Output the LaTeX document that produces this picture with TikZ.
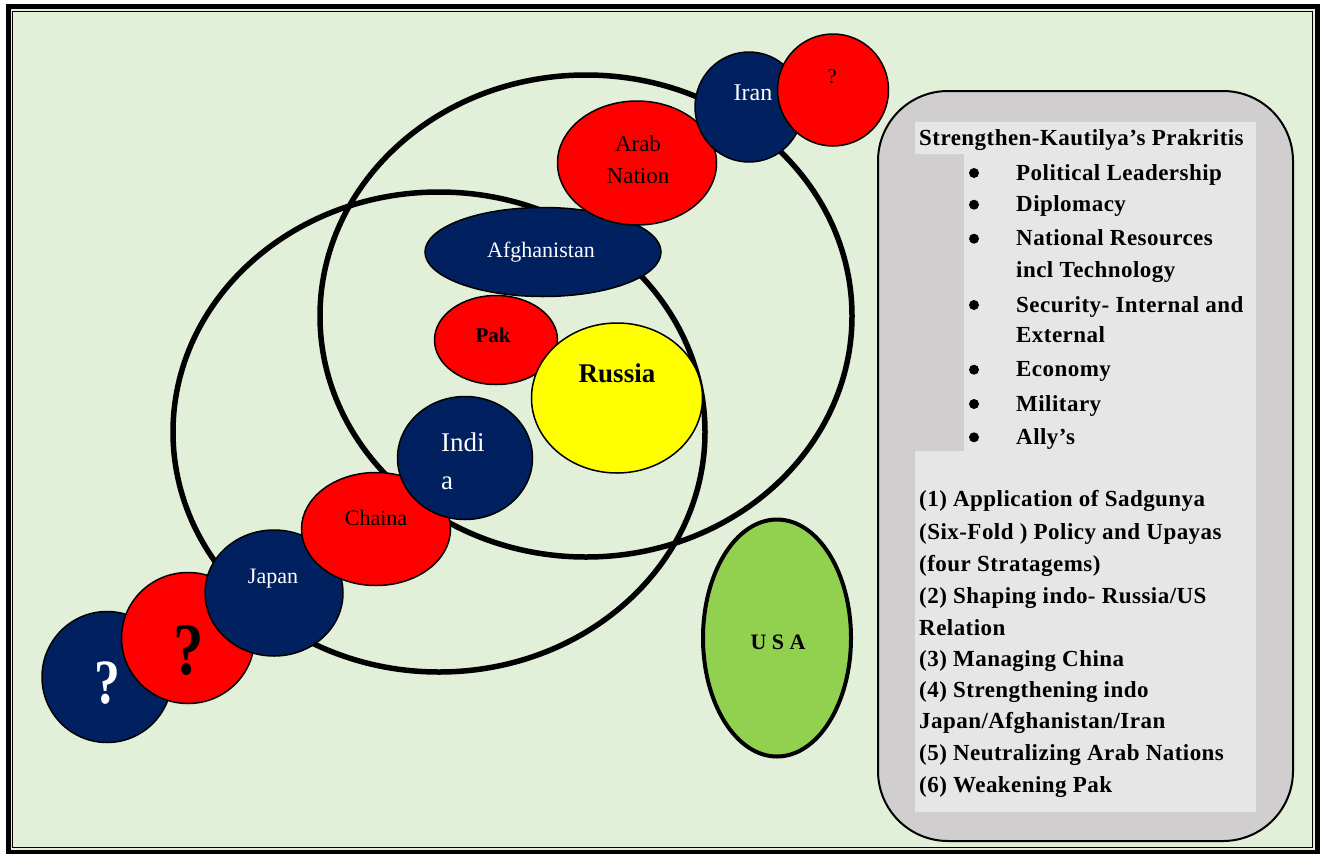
\documentclass[tikz,border=0pt]{standalone}
\usepackage{fontspec}
\setmainfont{Liberation Serif}
\newfontfamily\panelfont[LetterSpace=2]{Liberation Serif}
\usetikzlibrary{shapes.geometric}

\definecolor{bgGreen}{HTML}{E2EFD9}
\definecolor{navy}{HTML}{002060}
\definecolor{usaGreen}{HTML}{92D050}
\definecolor{russiaYellow}{HTML}{FFFF00}
\definecolor{panelGray}{HTML}{D0CECE}
\definecolor{panelLight}{HTML}{E7E6E6}

\newcommand\pxsize[1]{\fontsize{#1}{#1}\selectfont}

\tikzset{
  sz/.style 2 args={minimum width=#1pt, minimum height=#2pt},
  orbit/.style={draw, line width=5.5pt, ellipse, inner sep=0pt},
  country/.style={draw, line width=1.5pt, ellipse, inner sep=0pt},
  navyland/.style={country, fill=navy},
  redland/.style={country, fill=red},
  lbl/.style={anchor=base, inner sep=0pt},
  ptext/.style={anchor=base west, inner sep=0pt, font=\panelfont\bfseries\pxsize{23}},
  pdot/.style={circle, fill=black, inner sep=0pt, minimum size=10pt},
}

\begin{document}
\begin{tikzpicture}[x=1pt, y=-1pt]
\useasboundingbox (0,0) rectangle (1328,854);

% page frame
\fill[white] (0,0) rectangle (1328,854);
\fill[bgGreen] (8.5,6.5) rectangle (1317.5,852);
\draw[line width=5pt] (8.5,6.5) rectangle (1317.5,852);
\draw[line width=1.2pt] (12.5,11.5) rectangle (1312.5,847.5);

% the two spheres of influence
\node[orbit, sz={532}{480}] (sphereA) at (439,432) {};
\node[orbit, sz={532}{482}] (sphereB) at (586,316) {};

% USA
\node[draw, line width=4pt, ellipse, inner sep=0pt, fill=usaGreen, sz={148}{237}] (usa) at (777,638) {};

% Pak and Russia
\node[redland, sz={123}{89}] (pak) at (496,340) {};
\node[country, fill=russiaYellow, sz={171}{150}] (russia) at (617,398) {};

% north-west chain
\node[navyland, sz={236}{89}] (afghan) at (543,252) {};
\node[redland, sz={159}{124}] (arab) at (637,163) {};
\node[navyland, sz={108}{110}] (iran) at (749,107) {};
\node[redland, sz={111}{112}] (qtop) at (833,90) {};

% south-east chain
\node[navyland, sz={130}{131}] (qnavy) at (107,677) {};
\node[redland, sz={133}{131}] (qred) at (188,638) {};
\node[navyland, sz={138}{126}] (japan) at (274,593) {};
\node[redland, sz={149}{113}] (china) at (376,529) {};
\node[navyland, sz={135}{123}] (india) at (465,458) {};

% labels
\node[lbl, text=white, font=\pxsize{24}] (tIran) at (753,100.7) {Iran};
\node[lbl, font=\pxsize{21}] (tQtop) at (832,83) {?};
\node[lbl, font=\pxsize{23}] (tArab) at (638,151.7) {Arab};
\node[lbl, font=\pxsize{23}] (tNation) at (638,183) {Nation};
\node[lbl, text=white, font=\pxsize{22}] (tAfghan) at (541,257.7) {Afghanistan};
\node[lbl, font=\bfseries\pxsize{21}] (tPak) at (493,342) {Pak};
\node[lbl, font=\bfseries\pxsize{27}] (tRussia) at (617,382) {Russia};
\node[anchor=base west, inner sep=0pt, text=white, font=\pxsize{27}] (tIndi) at (441,451) {Indi};
\node[anchor=base west, inner sep=0pt, text=white, font=\pxsize{27}] (tIndiA) at (441,489) {a};
\node[lbl, font=\pxsize{22}] (tChina) at (376,525) {Chaina};
\node[lbl, text=white, font=\pxsize{22}] (tJapan) at (273,583) {Japan};
\node[lbl, font=\bfseries\pxsize{74}, xscale=0.82] (tQred) at (189,674) {?};
\node[lbl, text=white, font=\bfseries\pxsize{63}, xscale=0.82] (tQnavy) at (107,703) {?};
\node[lbl, font=\bfseries\pxsize{22}] (tUsa) at (778,649) {U S A};

% strategy panel
\node[draw, line width=2pt, fill=panelGray, rounded corners=70pt, inner sep=0pt,
      minimum width=415pt, minimum height=750pt] (panel) at (1085.5,466) {};
\fill[panelLight] (915,122) -- (1256,122) -- (1256,812) -- (915,812) -- (915,451)
  -- (964,451) -- (964,154) -- (915,154) -- cycle;

\node[ptext] (title) at (919,145.7) {Strengthen-Kautilya’s Prakritis};

\node[pdot] (b1) at (974,173) {};
\node[ptext] (p1) at (1016,180) {Political Leadership};
\node[pdot] (b2) at (974,204.7) {};
\node[ptext] (p2) at (1016,211.7) {Diplomacy};
\node[pdot] (b3) at (974,238.7) {};
\node[ptext] (p3) at (1016,245.7) {National Resources};
\node[ptext] (p3b) at (1016,277) {incl Technology};
\node[pdot] (b4) at (974,305) {};
\node[ptext] (p4) at (1016,312) {Security- Internal and};
\node[ptext] (p4b) at (1016,342) {External};
\node[pdot] (b5) at (974,369.7) {};
\node[ptext] (p5) at (1016,376.7) {Economy};
\node[pdot] (b6) at (974,404) {};
\node[ptext] (p6) at (1016,411) {Military};
\node[pdot] (b7) at (974,437.3) {};
\node[ptext] (p7) at (1016,444.3) {Ally’s};

\node[ptext] (s1) at (919,506.7) {(1) Application of Sadgunya};
\node[ptext] (s1b) at (919,539) {(Six-Fold ) Policy and Upayas};
\node[ptext] (s1c) at (919,571) {(four Stratagems)};
\node[ptext] (s2) at (919,603) {(2) Shaping indo- Russia/US};
\node[ptext] (s2b) at (919,635) {Relation};
\node[ptext] (s3) at (919,666.7) {(3) Managing China};
\node[ptext] (s4) at (919,697.7) {(4) Strengthening indo};
\node[ptext] (s4b) at (919,728) {Japan/Afghanistan/Iran};
\node[ptext] (s5) at (919,760.7) {(5) Neutralizing Arab Nations};
\node[ptext] (s6) at (919,792.3) {(6) Weakening Pak};
\end{tikzpicture}
\end{document}
